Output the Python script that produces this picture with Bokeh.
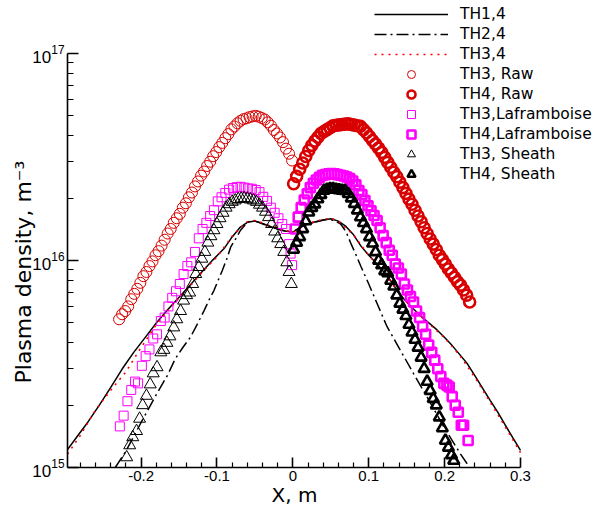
import math
from bokeh.plotting import figure
from bokeh.models import Range1d, Legend, LegendItem, FixedTicker, Title
from bokeh.embed import file_html
from bokeh.resources import INLINE

UNIT = 1e16  # all density values below are in units of 1e16 m^-3

# ---- TH1,4 (solid black line) ----
th1_x = [-0.297, -0.285, -0.27, -0.255, -0.24, -0.225, -0.21, -0.195, -0.18, -0.165,
         -0.15, -0.135, -0.12, -0.105, -0.09, -0.08, -0.07, -0.06, -0.05, -0.04,
         -0.03, -0.02, -0.01, 0.0, 0.01, 0.02, 0.03, 0.04, 0.05, 0.06,
         0.07, 0.08, 0.09, 0.10, 0.11, 0.12, 0.13, 0.14, 0.15, 0.16,
         0.17, 0.18, 0.19, 0.20, 0.21, 0.22, 0.23, 0.24, 0.25, 0.26,
         0.27, 0.28, 0.29, 0.30]
th1_y = [0.122, 0.140, 0.166, 0.200, 0.244, 0.299, 0.359, 0.423, 0.499, 0.578,
         0.664, 0.764, 0.881, 1.01, 1.15, 1.30, 1.44, 1.53, 1.55, 1.51,
         1.46, 1.42, 1.39, 1.37, 1.45, 1.50, 1.54, 1.57, 1.59, 1.55,
         1.46, 1.33, 1.17, 1.06, 0.97, 0.88, 0.79, 0.690, 0.630, 0.578,
         0.533, 0.497, 0.462, 0.425, 0.388, 0.351, 0.317, 0.277, 0.242, 0.211,
         0.185, 0.160, 0.139, 0.121]

# ---- TH2,4 (dash-dot black line) ----
th2_x = [-0.234, -0.22, -0.20, -0.18, -0.165, -0.155, -0.145, -0.135, -0.125, -0.117,
         -0.11, -0.104, -0.098, -0.093, -0.087, -0.082, -0.075, -0.069, -0.06, -0.052,
         -0.045, -0.035, -0.025, -0.015, -0.005, 0.005, 0.015, 0.025, 0.035, 0.045,
         0.055, 0.063, 0.07, 0.076, 0.082, 0.09, 0.098, 0.102, 0.111, 0.124,
         0.142, 0.159, 0.177, 0.199, 0.221, 0.233]
th2_y = [0.100, 0.120, 0.165, 0.225, 0.280, 0.335, 0.380, 0.426, 0.500, 0.573,
         0.650, 0.716, 0.810, 0.895, 1.02, 1.16, 1.28, 1.40, 1.53, 1.56,
         1.53, 1.48, 1.44, 1.40, 1.37, 1.41, 1.48, 1.52, 1.55, 1.58,
         1.56, 1.50, 1.38, 1.22, 1.09, 0.93, 0.80, 0.74, 0.62, 0.48,
         0.367, 0.284, 0.219, 0.157, 0.116, 0.100]

# ---- TH3,4 (dotted red line) ----
th3_x = [-0.297, -0.28, -0.26, -0.24, -0.22, -0.20, -0.18, -0.16, -0.14, -0.12,
         -0.10, -0.08, -0.06, -0.05, -0.04, -0.02, 0.0, 0.02, 0.04, 0.05,
         0.06, 0.08, 0.10, 0.12, 0.14, 0.16, 0.18, 0.20, 0.22, 0.24,
         0.26, 0.28, 0.30]
th3_y = [0.116, 0.143, 0.190, 0.236, 0.290, 0.380, 0.490, 0.600, 0.720, 0.875,
         1.04, 1.31, 1.54, 1.56, 1.52, 1.43, 1.37, 1.51, 1.58, 1.60,
         1.55, 1.33, 1.06, 0.88, 0.690, 0.575, 0.493, 0.423, 0.348, 0.272,
         0.207, 0.157, 0.118]

# ---- TH3, Raw (thin red circles) ----
raw3_x = [-0.229, -0.225, -0.221, -0.217, -0.213, -0.209, -0.205, -0.201, -0.197, -0.193,
          -0.189, -0.185, -0.181, -0.177, -0.173, -0.169, -0.165, -0.161, -0.157, -0.153,
          -0.149, -0.145, -0.141, -0.137, -0.133, -0.129, -0.125, -0.121, -0.117, -0.113,
          -0.109, -0.105, -0.101, -0.097, -0.093, -0.089, -0.085, -0.081, -0.077, -0.073,
          -0.069, -0.065, -0.061, -0.057, -0.053, -0.049, -0.045, -0.041, -0.037, -0.033,
          -0.029, -0.025, -0.021, -0.017, -0.013, -0.009, -0.005, -0.001]
raw3_y = [0.52, 0.55, 0.57, 0.60, 0.65, 0.69, 0.73, 0.78, 0.84, 0.88,
          0.94, 0.99, 1.06, 1.11, 1.18, 1.26, 1.35, 1.42, 1.52, 1.60,
          1.68, 1.80, 1.89, 2.02, 2.13, 2.28, 2.41, 2.57, 2.69, 2.86,
          3.00, 3.19, 3.34, 3.53, 3.70, 3.90, 4.08, 4.30, 4.44, 4.60,
          4.73, 4.82, 4.86, 4.93, 4.97, 5.00, 4.95, 4.88, 4.80, 4.65,
          4.48, 4.27, 4.11, 3.93, 3.73, 3.47, 3.28, 3.04]

# ---- TH4, Raw (thick red circles) ----
raw4_x = [0.001, 0.005, 0.009, 0.013, 0.017, 0.021, 0.025, 0.029, 0.033, 0.037,
          0.041, 0.045, 0.049, 0.053, 0.057, 0.061, 0.065, 0.069, 0.073, 0.077,
          0.081, 0.085, 0.089, 0.093, 0.097, 0.101, 0.105, 0.109, 0.113, 0.117,
          0.121, 0.125, 0.129, 0.133, 0.137, 0.141, 0.145, 0.149, 0.153, 0.157,
          0.161, 0.165, 0.169, 0.173, 0.177, 0.181, 0.185, 0.189, 0.193, 0.197,
          0.201, 0.205, 0.209, 0.213, 0.217, 0.221, 0.225, 0.229, 0.233]
raw4_y = [2.35, 2.55, 2.76, 2.96, 3.18, 3.40, 3.60, 3.78, 3.94, 4.11,
          4.20, 4.29, 4.38, 4.47, 4.50, 4.52, 4.54, 4.56, 4.57, 4.54,
          4.51, 4.48, 4.45, 4.29, 4.14, 3.97, 3.80, 3.65, 3.49, 3.33,
          3.15, 2.98, 2.82, 2.67, 2.54, 2.39, 2.25, 2.11, 1.98, 1.87,
          1.75, 1.64, 1.54, 1.44, 1.35, 1.27, 1.20, 1.13, 1.06, 1.01,
          0.96, 0.91, 0.87, 0.83, 0.79, 0.76, 0.72, 0.68, 0.63]

# ---- TH3, Laframboise (thin magenta squares) ----
laf3_x = [-0.228, -0.223, -0.218, -0.213, -0.208, -0.204, -0.199, -0.194, -0.189, -0.184,
          -0.179, -0.174, -0.169, -0.164, -0.159, -0.154, -0.149, -0.144, -0.139, -0.134,
          -0.129, -0.124, -0.119, -0.114, -0.109, -0.104, -0.099, -0.094, -0.089, -0.084,
          -0.079, -0.074, -0.069, -0.064, -0.059, -0.054, -0.049, -0.044, -0.039, -0.034,
          -0.029, -0.024, -0.019, -0.014, -0.009, -0.005, -0.003, -0.001]
laf3_y = [0.158, 0.178, 0.209, 0.237, 0.260, 0.255, 0.310, 0.345, 0.372, 0.420,
          0.440, 0.510, 0.530, 0.600, 0.660, 0.710, 0.770, 0.860, 0.940, 0.980,
          1.10, 1.28, 1.42, 1.52, 1.64, 1.75, 1.93, 2.02, 2.12, 2.20,
          2.24, 2.26, 2.27, 2.25, 2.23, 2.22, 2.19, 2.14, 2.03, 1.94,
          1.80, 1.70, 1.60, 1.50, 1.42, 1.20, 1.08, 0.95]

# ---- TH4, Laframboise (thick magenta squares) ----
laf4_x = [0.003, 0.007, 0.011, 0.015, 0.019, 0.023, 0.027, 0.031, 0.035, 0.039,
          0.043, 0.047, 0.051, 0.055, 0.059, 0.063, 0.067, 0.071, 0.075, 0.079,
          0.083, 0.087, 0.091, 0.095, 0.099, 0.103, 0.107, 0.111, 0.115, 0.119,
          0.123, 0.127, 0.131, 0.135, 0.139, 0.143, 0.147, 0.151, 0.155, 0.159,
          0.163, 0.167, 0.171, 0.175, 0.179, 0.183, 0.187, 0.191, 0.195, 0.199,
          0.203, 0.206, 0.210, 0.214, 0.218, 0.222, 0.225, 0.231]
laf4_y = [1.42, 1.62, 1.80, 1.96, 2.10, 2.25, 2.36, 2.45, 2.52, 2.58,
          2.60, 2.62, 2.63, 2.62, 2.60, 2.58, 2.56, 2.53, 2.49, 2.42,
          2.32, 2.18, 2.08, 1.95, 1.84, 1.74, 1.65, 1.56, 1.44, 1.32,
          1.22, 1.12, 1.06, 0.96, 0.92, 0.86, 0.77, 0.72, 0.67, 0.63,
          0.57, 0.53, 0.48, 0.44, 0.39, 0.36, 0.33, 0.30, 0.275, 0.255,
          0.250, 0.245, 0.220, 0.200, 0.185, 0.160, 0.160, 0.135]

# ---- TH3, Sheath (thin black triangles) ----
sh3_x = [-0.219, -0.215, -0.211, -0.206, -0.202, -0.198, -0.193, -0.188, -0.184, -0.179,
         -0.174, -0.170, -0.166, -0.162, -0.157, -0.153, -0.148, -0.144, -0.140, -0.136,
         -0.132, -0.128, -0.124, -0.120, -0.116, -0.112, -0.108, -0.104, -0.100, -0.096,
         -0.092, -0.088, -0.084, -0.080, -0.076, -0.072, -0.068, -0.064, -0.060, -0.056,
         -0.052, -0.048, -0.044, -0.040, -0.036, -0.032, -0.028, -0.024, -0.020, -0.016,
         -0.012, -0.008, -0.005, -0.002]
sh3_y = [0.112, 0.128, 0.140, 0.150, 0.172, 0.200, 0.222, 0.252, 0.285, 0.305,
         0.360, 0.370, 0.400, 0.430, 0.475, 0.520, 0.570, 0.640, 0.680, 0.700,
         0.770, 0.860, 0.930, 1.02, 1.10, 1.22, 1.31, 1.40, 1.50, 1.60,
         1.70, 1.80, 1.87, 1.92, 1.95, 1.98, 1.99, 2.00, 1.99, 1.97,
         1.95, 1.92, 1.86, 1.80, 1.72, 1.62, 1.50, 1.38, 1.28, 1.20,
         1.10, 0.98, 0.88, 0.77]

# ---- TH4, Sheath (thick black triangles) ----
sh4_x = [0.001, 0.005, 0.009, 0.013, 0.017, 0.021, 0.025, 0.029, 0.033, 0.037,
         0.041, 0.045, 0.049, 0.053, 0.057, 0.061, 0.065, 0.069, 0.073, 0.077,
         0.081, 0.085, 0.089, 0.093, 0.097, 0.101, 0.105, 0.109, 0.113, 0.117,
         0.121, 0.125, 0.129, 0.133, 0.137, 0.141, 0.145, 0.149, 0.153, 0.157,
         0.161, 0.165, 0.169, 0.173, 0.177, 0.181, 0.185, 0.189, 0.193, 0.197,
         0.201, 0.205, 0.209, 0.212]
sh4_y = [1.13, 1.22, 1.30, 1.42, 1.55, 1.71, 1.80, 1.87, 1.98, 2.08,
         2.18, 2.20, 2.22, 2.22, 2.20, 2.19, 2.18, 2.17, 2.10, 2.00,
         1.88, 1.75, 1.62, 1.52, 1.42, 1.30, 1.21, 1.10, 1.00, 0.95,
         0.89, 0.87, 0.80, 0.75, 0.68, 0.62, 0.58, 0.54, 0.49, 0.45,
         0.415, 0.38, 0.34, 0.30, 0.26, 0.235, 0.215, 0.20, 0.175, 0.155,
         0.135, 0.125, 0.115, 0.108]

# ---- axes ----
X_MIN, X_MAX = -0.297, 0.3
Y_MIN, Y_MAX = 1e15, 1e17
X_TICKS = [-0.2, -0.1, 0.0, 0.1, 0.2, 0.3]
X_LABELS = ["-0.2", "-0.1", "0", "0.1", "0.2", "0.3"]
X_MINOR = [-0.28, -0.26, -0.24, -0.22, -0.18, -0.16, -0.14, -0.12, -0.08, -0.06, -0.04, -0.02,
           0.02, 0.04, 0.06, 0.08, 0.12, 0.14, 0.16, 0.18, 0.22, 0.24, 0.26, 0.28]
Y_TICKS = [1e15, 1e16, 1e17]
Y_MINOR = [m * 1e15 for m in range(2, 10)] + [m * 1e16 for m in range(2, 10)]
X_TITLE = "X, m"
Y_TITLE = "Plasma density, m\u207b\u00b3"

# layout (pixels): axes box 453 x 414; the frame is extended to the right and
# top edges of the canvas so that the legend (which overhangs the axes) is not clipped
W, H = 595, 506
LEFT, BOTTOM = 67, 39
AX_W, AX_H = 453, 414
FRAME_W, FRAME_H = W - LEFT, H - BOTTOM
x_end = X_MIN + (X_MAX - X_MIN) * FRAME_W / AX_W
y_end = 10 ** (15 + 2.0 * FRAME_H / AX_H)


def sc(v):
    return [a * UNIT for a in v]


p = figure(width=W, height=H,
           x_range=Range1d(X_MIN, x_end), y_range=Range1d(Y_MIN, y_end),
           y_axis_type="log", output_backend="svg", toolbar_location=None,
           min_border_left=LEFT, min_border_right=0, min_border_top=0, min_border_bottom=BOTTOM,
           background_fill_color="white", border_fill_color="white")
p.outline_line_color = None
p.grid.visible = False

RED = "#d80000"
MAG = "#ff00ff"

r1 = p.line(th1_x, sc(th1_y), line_color="black", line_width=1.5)
r2 = p.line(th2_x, sc(th2_y), line_color="black", line_width=1.5, line_dash="12 4 2 4")
r3 = p.line(th3_x, sc(th3_y), line_color="#ff0000", line_width=1.6, line_dash="2 5")

r4 = p.scatter(raw3_x, sc(raw3_y), marker="circle", size=11, line_color=RED, line_width=1, fill_color=None)
r5 = p.scatter(raw4_x, sc(raw4_y), marker="circle", size=11, line_color=RED, line_width=2.6, fill_color=None)
r6 = p.scatter(laf3_x, sc(laf3_y), marker="square", size=9, line_color=MAG, line_width=1, fill_color=None)
r7 = p.scatter(laf4_x, sc(laf4_y), marker="square", size=9, line_color=MAG, line_width=2.6, fill_color=None)
r8 = p.scatter(sh3_x, sc(sh3_y), marker="triangle", size=12, line_color="black", line_width=1, fill_color=None)
r9 = p.scatter(sh4_x, sc(sh4_y), marker="triangle", size=11, line_color="black", line_width=2.6, fill_color=None)

TICK_FONT = "Liberation Sans"
TITLE_FONT = "DejaVu Sans"
xa = p.xaxis[0]
xa.ticker = FixedTicker(ticks=X_TICKS, minor_ticks=X_MINOR)
xa.major_label_overrides = {t: s for t, s in zip(X_TICKS, X_LABELS)}
xa.bounds = (X_MIN, X_MAX)
ya = p.yaxis[0]
ya.ticker = FixedTicker(ticks=Y_TICKS, minor_ticks=Y_MINOR)
ya.bounds = (Y_MIN, Y_MAX)
for ax in (xa, ya):
    ax.axis_line_color = "black"
    ax.axis_line_width = 1.6
    ax.major_tick_line_color = "black"
    ax.major_tick_line_width = 1.6
    ax.minor_tick_line_color = "black"
    ax.minor_tick_line_width = 1.2
    ax.major_tick_out = 0
    ax.minor_tick_out = 0
    ax.major_label_text_font = TICK_FONT
    ax.major_label_text_color = "black"
xa.major_label_text_font_size = "15px"
ya.major_label_text_font_size = "17px"
xa.major_tick_in = 10
xa.minor_tick_in = 5
ya.major_tick_in = 11
ya.minor_tick_in = 6
xa.major_label_standoff = 3
ya.major_label_standoff = 3

# axis titles as side-panel titles, left-aligned with an offset so that they sit
# under / beside the middle of the axes box
p.add_layout(Title(text=X_TITLE, align="left", offset=204, standoff=-5,
                   text_font=TITLE_FONT, text_font_size="20px", text_font_style="normal",
                   text_color="black"), "below")
p.add_layout(Title(text=Y_TITLE, align="left", offset=84, standoff=-12,
                   text_font=TITLE_FONT, text_font_size="22px", text_font_style="normal",
                   text_color="black"), "left")

legend = Legend(items=[
    LegendItem(label="TH1,4", renderers=[r1]),
    LegendItem(label="TH2,4", renderers=[r2]),
    LegendItem(label="TH3,4", renderers=[r3]),
    LegendItem(label="TH3, Raw", renderers=[r4]),
    LegendItem(label="TH4, Raw", renderers=[r5]),
    LegendItem(label="TH3,Laframboise", renderers=[r6]),
    LegendItem(label="TH4,Laframboise", renderers=[r7]),
    LegendItem(label="TH3, Sheath", renderers=[r8]),
    LegendItem(label="TH4, Sheath", renderers=[r9]),
], location=(307, 283), orientation="vertical",
    glyph_width=74, glyph_height=20, label_height=20, spacing=0, padding=0, margin=0,
    label_standoff=12, border_line_color=None, background_fill_alpha=0,
    label_text_font="DejaVu Sans", label_text_font_size="15.5px", label_text_color="black")
p.add_layout(legend)

open("out.html", "w").write(file_html(p, INLINE))
